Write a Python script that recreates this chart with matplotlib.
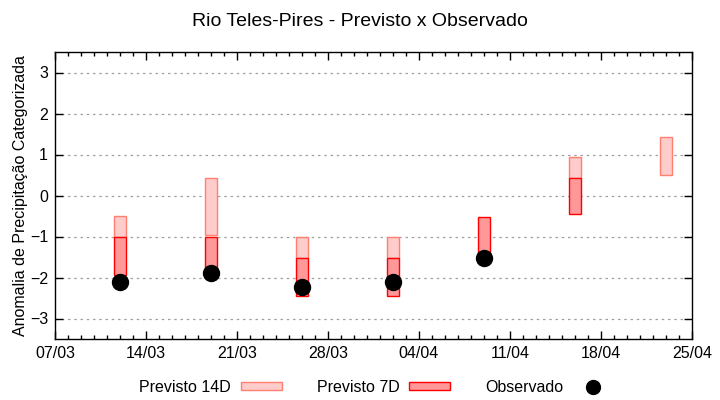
import datetime as dt

import matplotlib
matplotlib.use('Agg')
import matplotlib.pyplot as plt
import matplotlib.dates as mdates
from matplotlib.patches import Patch
from matplotlib.lines import Line2D
import numpy as np

plt.rcParams['font.family'] = ['Liberation Sans', 'DejaVu Sans']

# data
dates = ['2024-03-12', '2024-03-19', '2024-03-26', '2024-04-02',
         '2024-04-09', '2024-04-16', '2024-04-23']
prev14_hi = [-0.5, 0.43, -1.0, -1.0, np.nan, 0.95, 1.43]
prev14_lo = [-1.0, -0.97, -1.52, -1.52, np.nan, 0.43, 0.5]
prev7_hi = [-1.0, -1.0, -1.52, -1.52, -0.52, 0.43, np.nan]
prev7_lo = [-1.95, -1.85, -2.45, -2.45, -1.52, -0.45, np.nan]
observado = [-2.1, -1.9, -2.22, -2.1, -1.52, np.nan, np.nan]

x_start, x_end = '2024-03-07', '2024-04-25'

x = mdates.date2num([dt.date.fromisoformat(d) for d in dates])
p14_hi, p14_lo = np.array(prev14_hi), np.array(prev14_lo)
p7_hi, p7_lo = np.array(prev7_hi), np.array(prev7_lo)

fig = plt.figure(figsize=(7.2, 4.0), dpi=100)
ax = fig.add_axes([0.0764, 0.1525, 0.8846, 0.7175])

c14_face, c14_edge = '#ffcccc', '#ff7f70'
c7_face, c7_edge = '#ff9999', '#ff0000'

ax.bar(x, p14_hi - p14_lo, bottom=p14_lo, width=0.95, color=c14_face,
       edgecolor=c14_edge, linewidth=1.0, zorder=2)
ax.bar(x, p7_hi - p7_lo, bottom=p7_lo, width=0.95, color=c7_face,
       edgecolor=c7_edge, linewidth=1.0, zorder=3)
ax.plot(x, observado, 'o', color='black', markersize=11.5, zorder=4)

xmin = mdates.date2num(dt.date.fromisoformat(x_start))
xmax = mdates.date2num(dt.date.fromisoformat(x_end))
ax.set_xlim(xmin, xmax)
ax.set_ylim(-3.5, 3.5)
ax.set_yticks([-3, -2, -1, 0, 1, 2, 3])

# weekly major ticks starting at the first day, daily minor ticks
ax.set_xticks(np.arange(xmin, xmax + 0.5, 7))
ax.xaxis.set_minor_locator(mdates.DayLocator())
ax.xaxis.set_major_formatter(mdates.DateFormatter('%d/%m'))

ax.grid(axis='y', linestyle=(0, (2, 3)), color='#a0a0a0', linewidth=0.9)
ax.tick_params(which='both', direction='in', top=True, right=True,
               labelsize=11.5, width=1.0)
ax.tick_params(which='major', length=6, pad=5)
ax.tick_params(which='minor', length=3)
for s in ax.spines.values():
    s.set_linewidth(1.0)

ax.set_ylabel('Anomalia de Precipitação Categorizada', fontsize=11.5, labelpad=1)
fig.suptitle('Rio Teles-Pires - Previsto x Observado', fontsize=14, y=0.968)

handles = [Patch(facecolor=c14_face, edgecolor=c14_edge),
           Patch(facecolor=c7_face, edgecolor=c7_edge),
           Line2D([], [], marker='o', color='black', linestyle='none', markersize=10)]
labels = ['Previsto 14D', 'Previsto 7D', 'Observado']
fig.legend(handles, labels, loc='center', bbox_to_anchor=(0.523, 0.032), ncol=3,
           frameon=False, markerfirst=False, fontsize=11.5, handlelength=2.56,
           handleheight=0.35, columnspacing=2.2, handletextpad=0.6)

fig.savefig('out.png', dpi=100)
